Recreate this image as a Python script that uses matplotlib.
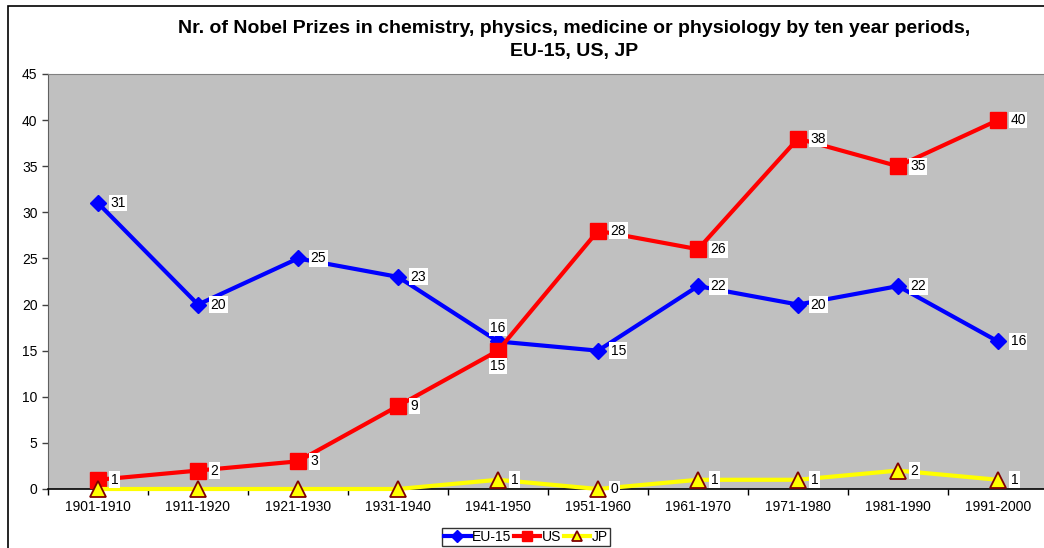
import matplotlib.pyplot as plt
import matplotlib.patches as patches
import numpy as np

plt.rcParams['font.family'] = ['Liberation Sans', 'DejaVu Sans']

# data
periods = ['1901-1910', '1911-1920', '1921-1930', '1931-1940', '1941-1950',
           '1951-1960', '1961-1970', '1971-1980', '1981-1990', '1991-2000']
eu15 = [31, 20, 25, 23, 16, 15, 22, 20, 22, 16]
us = [1, 2, 3, 9, 15, 28, 26, 38, 35, 40]
jp = [0, 0, 0, 0, 1, 0, 1, 1, 2, 1]

x = np.arange(len(periods))

fig = plt.figure(figsize=(10.44, 5.48), dpi=100)
# outer chart frame (cropped on right/bottom in the original)
fig.patches.append(patches.Rectangle((8 / 1044, -0.05), 1.2, 1 - 6 / 548 + 0.05,
                                     transform=fig.transFigure, fill=False,
                                     edgecolor='black', linewidth=1.2))

ax = fig.add_axes([48 / 1044, 59 / 548, 1000 / 1044, 415 / 548])
ax.set_facecolor('#C0C0C0')

ax.plot(x, eu15, color='#0000FF', lw=3, marker='D', ms=8.5, label='EU-15', zorder=3, clip_on=False)
ax.plot(x, us, color='#FF0000', lw=3, marker='s', ms=11, label='US', zorder=3, clip_on=False)
ax.plot(x, jp, color='#FFFF00', lw=3, marker='^', ms=11, mfc='#FFFF00',
        mec='#800000', mew=1.3, label='JP', zorder=4, clip_on=False)

box = dict(boxstyle='square,pad=0.1', fc='white', ec='none')

def label_series(vals, skip=(), special=None):
    special = special or {}
    for i, v in enumerate(vals):
        if i in skip:
            continue
        off, ha, va = special.get(i, ((9, 0), 'left', 'center'))
        ax.annotate(str(v), (x[i], v), xytext=off, textcoords='offset points',
                    ha=ha, va=va, fontsize=10, bbox=box, zorder=5)

label_series(eu15, special={4: ((0, 10), 'center', 'center')})
label_series(us, special={4: ((0, -11), 'center', 'center')})
label_series(jp, skip=(0, 1, 2, 3))

ax.set_xlim(-0.5, 9.5)
ax.set_ylim(0, 45)
ax.set_yticks(np.arange(0, 46, 5))
ax.set_xticks(x)
ax.set_xticklabels(periods)
ax.set_xticks(np.arange(-0.5, 10, 1), minor=True)
ax.tick_params(axis='x', which='major', length=0, pad=8, labelsize=10)
ax.tick_params(axis='x', which='minor', length=4, direction='out', width=1)
ax.tick_params(axis='y', length=4, direction='out', labelsize=10, width=1, color='#404040')

ax.spines['left'].set_color('#606060')
ax.spines['top'].set_color('#808080')
ax.spines['right'].set_visible(False)
ax.spines['bottom'].set_color('black')
ax.spines['bottom'].set_linewidth(1.2)

fig.text(0.55, 1 - 40 / 548, 'Nr. of Nobel Prizes in chemistry, physics, medicine or physiology by ten year periods,\nEU-15, US, JP',
         ha='center', va='center', fontsize=14, fontweight='bold', linespacing=1.45)

leg = fig.legend(loc='center', bbox_to_anchor=(526 / 1044, 1 - 537 / 548), ncol=3,
                 fontsize=10, frameon=True, fancybox=False, edgecolor='black',
                 handlelength=1.9, handletextpad=0.1, columnspacing=0.2,
                 borderpad=0.15, borderaxespad=0, markerscale=0.7)
leg.get_frame().set_linewidth(1)

fig.savefig('out.png', dpi=100)
